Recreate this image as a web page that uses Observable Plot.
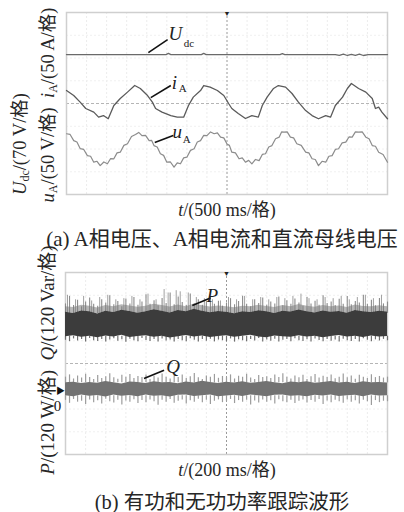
<!DOCTYPE html>
<html lang="zh-CN"><head><meta charset="utf-8">
<script src="https://cdn.jsdelivr.net/npm/d3@7"></script>
<script src="https://cdn.jsdelivr.net/npm/@observablehq/plot@0.6"></script>
<style>
body{margin:0;background:#fff;}
#wrap{position:relative;width:404px;height:512px;overflow:hidden;font-family:"Liberation Serif","Times New Roman","Noto Sans CJK SC",serif;color:#262626;}
.abs{position:absolute;white-space:nowrap;}
.c{transform:translate(-50%,-50%);}
.r{transform:translate(-50%,-50%) rotate(-90deg);}
sub{font-size:0.65em;vertical-align:-0.25em;line-height:0;}
</style></head>
<body>
<div id="wrap">
  <div id="pa" class="abs" style="left:0;top:0"></div>
  <div id="pb" class="abs" style="left:0;top:250px"></div>
  <div class="abs r" style="left:18px;top:144px;font-size:18.5px"><i>U</i><sub>dc</sub>/(70 V/格)</div>
  <div class="abs r" style="left:46px;top:105px;font-size:18.5px"><i>u</i><sub>A</sub>/(50 V/格)&nbsp;&nbsp;<i>i</i><sub>A</sub>/(50 A/格)</div>
  <div class="abs c" style="left:227px;top:208px;font-size:18px"><i>t</i>/(500 ms/格)</div>
  <div class="abs c" style="left:222px;top:237px;font-size:21px">(a) A相电压、A相电流和直流母线电压</div>
  <div class="abs r" style="left:45px;top:360px;font-size:19px"><i>P</i>/(120 W/格)&nbsp;&nbsp;<i>Q</i>/(120 Var/格)</div>
  <div class="abs c" style="left:227px;top:468px;font-size:18px"><i>t</i>/(200 ms/格)</div>
  <div class="abs c" style="left:222px;top:500px;font-size:20.5px">(b) 有功和无功功率跟踪波形</div>
</div>
<script>
// ---------- Panel (a): values in screen divisions (格), t in seconds ----------
const Udc_t = [0,1.24,1.27,1.30,1.68,1.71,1.74,2.66,2.69,2.72,3.35,3.40,3.45,3.50,3.55,3.60,3.65,3.70,3.76,4.0];
const Udc_v = [2.15,2.15,2.2,2.15,2.15,2.2,2.15,2.15,2.19,2.15,2.15,2.12,2.17,2.11,2.16,2.12,2.17,2.11,2.15,2.15];

const iA_t = [0,0.09,0.17,0.24,0.34,0.40,0.46,0.52,0.59,0.67,0.76,0.85,0.92,1.01,1.07,1.11,1.19,1.30,1.38,1.46,1.52,1.58,1.67,1.71,1.79,1.88,1.96,2.02,2.06,2.14,2.23,2.31,2.39,2.44,2.50,2.58,2.64,2.73,2.81,2.89,2.98,3.06,3.14,3.23,3.29,3.35,3.44,3.50,3.55,3.64,3.73,3.81,3.85,3.89,3.93,4.0];
const iA_v = [0.57,0.35,0.06,-0.22,-0.38,-0.60,-0.53,-0.67,-0.09,0.22,0.50,0.79,0.66,0.35,0.06,-0.22,-0.38,-0.53,-0.60,-0.60,-0.09,0.28,0.57,0.79,0.72,0.57,0.35,0.0,-0.22,-0.44,-0.66,-0.53,-0.60,-0.09,0.28,0.66,0.79,0.72,0.44,0.06,-0.31,-0.53,-0.67,-0.53,-0.60,-0.09,0.28,0.66,0.88,0.66,0.50,0.22,-0.22,-0.16,-0.38,-0.67];

const uA_t = [0,0.045,0.09,0.13,0.17,0.215,0.26,0.30,0.34,0.38,0.42,0.465,0.51,0.55,0.59,0.63,0.67,0.715,0.76,0.81,0.86,0.90,0.94,0.985,1.03,1.06,1.09,1.13,1.17,1.21,1.25,1.295,1.34,1.38,1.42,1.46,1.50,1.545,1.59,1.63,1.67,1.71,1.75,1.795,1.84,1.88,1.92,1.96,2.00,2.03,2.06,2.105,2.15,2.19,2.23,2.27,2.31,2.355,2.40,2.44,2.48,2.52,2.56,2.605,2.65,2.68,2.71,2.75,2.79,2.83,2.87,2.925,2.98,3.02,3.06,3.10,3.14,3.185,3.23,3.27,3.31,3.35,3.39,3.435,3.48,3.52,3.56,3.60,3.64,3.685,3.73,3.77,3.81,3.85,3.89,3.945,4.00];
const uA_v = [-1.33,-1.36,-1.63,-1.69,-1.98,-2.02,-2.29,-2.32,-2.58,-2.54,-2.73,-2.57,-2.65,-2.42,-2.43,-2.17,-2.14,-1.84,-1.77,-1.45,-1.36,-1.27,-1.41,-1.40,-1.63,-1.62,-1.85,-1.91,-2.21,-2.28,-2.58,-2.57,-2.80,-2.61,-2.65,-2.39,-2.36,-2.06,-1.99,-1.69,-1.63,-1.40,-1.41,-1.25,-1.33,-1.29,-1.48,-1.51,-1.78,-1.84,-2.14,-2.17,-2.43,-2.39,-2.58,-2.50,-2.65,-2.46,-2.51,-2.24,-2.21,-1.91,-1.85,-1.55,-1.48,-1.25,-1.26,-1.25,-1.48,-1.51,-1.77,-1.84,-2.14,-2.17,-2.43,-2.46,-2.73,-2.54,-2.58,-2.32,-2.29,-2.02,-1.99,-1.73,-1.70,-1.47,-1.48,-1.25,-1.26,-1.25,-1.48,-1.55,-1.85,-1.88,-2.14,-2.24,-2.58];

const annA = [
  {main:"U", sub:"dc", lx:1.27, ly:3.05, sx:1.46, sy:2.64, x1:1.02, y1:2.24, x2:1.26, y2:2.81},
  {main:"i", sub:"A",  lx:1.31, ly:0.92, sx:1.40, sy:0.66, x1:1.05, y1:0.26, x2:1.30, y2:0.79},
  {main:"u", sub:"A",  lx:1.32, ly:-1.27, sx:1.45, sy:-1.58, x1:1.10, y1:-1.71, x2:1.33, y2:-1.41}
];
const gridXA = [0.25,0.5,0.75,1,1.25,1.5,1.75,2.25,2.5,2.75,3,3.25,3.5,3.75];
const gridY = [-3,-2,-1,1,2,3];

// ---------- Panel (b): t in seconds, values in divisions ----------
const tB = [0,0.04,0.08,0.12,0.16,0.2,0.24,0.28,0.32,0.36,0.4,0.44,0.48,0.52,0.56,0.6,0.64,0.68,0.72,0.76,0.8,0.84,0.88,0.92,0.96,1.0,1.04,1.08,1.12,1.16,1.2,1.24,1.28,1.32,1.36,1.4,1.44,1.48,1.52,1.56,1.6];
const P_hi = [2.25,2.2,2.31,2.27,2.18,2.3,2.24,2.34,2.29,2.21,2.28,2.36,2.3,2.22,2.33,2.27,2.38,2.3,2.23,2.29,2.25,2.19,2.28,2.24,2.32,2.27,2.2,2.3,2.26,2.35,2.28,2.22,2.31,2.25,2.29,2.21,2.33,2.27,2.24,2.3,2.26];
const P_lo = [1.18,1.22,1.15,1.2,1.13,1.21,1.17,1.24,1.14,1.19,1.22,1.15,1.2,1.12,1.18,1.23,1.16,1.21,1.14,1.19,1.22,1.15,1.2,1.24,1.17,1.13,1.21,1.18,1.15,1.22,1.17,1.2,1.13,1.19,1.23,1.16,1.2,1.14,1.21,1.17,1.19];
const P_fr = [2.5,2.46,2.56,2.52,2.44,2.55,2.49,2.58,2.53,2.47,2.52,2.6,2.55,2.48,2.57,2.5,2.62,2.54,2.48,2.53,2.5,2.45,2.52,2.49,2.56,2.51,2.46,2.55,2.5,2.59,2.52,2.47,2.55,2.5,2.53,2.46,2.57,2.51,2.49,2.54,2.5];
const Q_hi = [-0.85,-0.82,-0.88,-0.83,-0.87,-0.79,-0.85,-0.9,-0.81,-0.84,-0.88,-0.8,-0.85,-0.83,-0.89,-0.81,-0.86,-0.78,-0.84,-0.88,-0.82,-0.86,-0.8,-0.87,-0.84,-0.79,-0.85,-0.89,-0.81,-0.85,-0.8,-0.87,-0.84,-0.79,-0.86,-0.82,-0.88,-0.8,-0.85,-0.83,-0.86];
const Q_lo = [-1.42,-1.46,-1.39,-1.44,-1.41,-1.47,-1.38,-1.44,-1.41,-1.46,-1.39,-1.44,-1.42,-1.47,-1.4,-1.38,-1.45,-1.42,-1.39,-1.46,-1.43,-1.4,-1.45,-1.39,-1.42,-1.46,-1.4,-1.38,-1.44,-1.42,-1.46,-1.4,-1.43,-1.39,-1.45,-1.42,-1.4,-1.46,-1.39,-1.43,-1.42];

// dense noise excursions (hairs) above/below each band
const tS = [0,0.02,0.04,0.06,0.08,0.1,0.12,0.14,0.16,0.18,0.2,0.22,0.24,0.26,0.28,0.3,0.32,0.34,0.36,0.38,0.4,0.42,0.44,0.46,0.48,0.5,0.52,0.54,0.56,0.58,0.6,0.62,0.64,0.66,0.68,0.7,0.72,0.74,0.76,0.78,0.8,0.82,0.84,0.86,0.88,0.9,0.92,0.94,0.96,0.98,1.0,1.02,1.04,1.06,1.08,1.1,1.12,1.14,1.16,1.18,1.2,1.22,1.24,1.26,1.28,1.3,1.32,1.34,1.36,1.38,1.4,1.42,1.44,1.46,1.48,1.5,1.52,1.54,1.56,1.58,1.6];
const P_up = [2.62,2.95,2.55,2.78,2.5,2.7,2.88,2.6,2.52,2.8,2.66,2.98,2.58,2.72,2.5,2.84,2.62,2.9,2.56,2.7,3.02,2.6,2.76,2.54,2.86,2.64,3.1,2.58,2.92,2.68,2.55,3.05,2.62,2.8,2.56,2.7,2.9,2.6,2.74,2.52,2.66,2.85,2.58,2.72,2.96,2.6,2.5,2.8,2.64,2.88,2.56,2.7,2.62,2.92,2.54,2.76,2.6,2.84,2.66,2.52,2.9,2.62,2.74,2.56,2.98,2.64,2.7,2.55,2.82,2.6,2.94,2.58,2.72,2.66,3.0,2.6,2.78,2.54,2.86,2.62,2.7];
const P_dn = [1.02,0.96,1.08,0.99,1.05,0.94,1.1,1.0,0.97,1.06,0.95,1.03,1.09,0.98,1.04,0.93,1.07,1.0,0.96,1.1,1.01,0.97,1.05,0.94,1.08,0.99,1.03,0.95,1.06,1.0,0.96,1.09,1.02,0.94,1.05,0.98,1.07,0.95,1.03,1.0,0.97,1.08,0.94,1.04,1.0,0.96,1.06,0.99,1.1,0.95,1.03,0.98,1.07,0.94,1.02,1.05,0.96,1.09,1.0,0.97,1.04,0.95,1.08,1.01,0.96,1.06,0.98,1.03,0.94,1.07,1.0,0.97,1.05,0.95,1.09,1.02,0.96,1.04,0.99,1.06,1.0];
const Q_up = [-0.6,-0.5,-0.68,-0.55,-0.64,-0.47,-0.62,-0.7,-0.53,-0.66,-0.58,-0.45,-0.63,-0.69,-0.52,-0.6,-0.48,-0.66,-0.57,-0.62,-0.5,-0.7,-0.56,-0.64,-0.46,-0.6,-0.68,-0.54,-0.62,-0.5,-0.66,-0.58,-0.44,-0.63,-0.7,-0.55,-0.6,-0.48,-0.65,-0.57,-0.62,-0.5,-0.68,-0.56,-0.6,-0.47,-0.64,-0.7,-0.53,-0.61,-0.58,-0.66,-0.5,-0.62,-0.45,-0.6,-0.68,-0.55,-0.63,-0.52,-0.7,-0.58,-0.48,-0.64,-0.56,-0.62,-0.5,-0.67,-0.6,-0.46,-0.63,-0.55,-0.69,-0.52,-0.6,-0.66,-0.49,-0.62,-0.57,-0.64,-0.6];
const Q_dn = [-1.62,-1.75,-1.58,-1.7,-1.66,-1.8,-1.6,-1.72,-1.64,-1.78,-1.57,-1.68,-1.74,-1.61,-1.82,-1.65,-1.7,-1.59,-1.76,-1.63,-1.72,-1.6,-1.68,-1.84,-1.62,-1.7,-1.58,-1.75,-1.66,-1.6,-1.78,-1.64,-1.7,-1.57,-1.73,-1.62,-1.8,-1.66,-1.6,-1.72,-1.68,-1.58,-1.76,-1.63,-1.7,-1.61,-1.82,-1.65,-1.74,-1.6,-1.7,-1.64,-1.78,-1.59,-1.68,-1.72,-1.62,-1.76,-1.66,-1.6,-1.74,-1.63,-1.7,-1.58,-1.8,-1.65,-1.72,-1.61,-1.68,-1.75,-1.6,-1.7,-1.64,-1.78,-1.62,-1.68,-1.85,-1.63,-1.72,-1.66,-1.68];
// taller isolated P spikes
const Pspk_t = [0.01,0.05,0.09,0.13,0.17,0.21,0.25,0.29,0.33,0.37,0.41,0.45,0.49,0.51,0.55,0.57,0.61,0.65,0.69,0.73,0.77,0.81,0.85,0.89,0.93,0.97,1.01,1.05,1.09,1.13,1.17,1.21,1.25,1.29,1.33,1.37,1.41,1.45,1.49,1.53,1.57];
const Pspk_v = [3.0,2.8,2.95,2.75,2.9,3.0,2.8,2.85,2.95,2.8,3.05,2.8,3.25,3.1,3.2,3.15,3.1,2.9,2.85,2.8,2.75,2.9,2.8,2.95,2.8,2.9,2.8,2.9,2.85,2.95,3.05,2.85,2.8,2.9,2.85,2.95,2.8,2.9,3.0,2.85,3.0];

const zeroRefB = -1.27;
const annB = [
  {main:"P", lx:0.70, ly:2.99, x1:0.63, y1:2.55, x2:0.72, y2:2.88},
  {main:"Q", lx:0.50, ly:-0.13, x1:0.39, y1:-0.66, x2:0.49, y2:-0.30}
];
const gridXB = [0.1,0.2,0.3,0.4,0.5,0.6,0.7,0.9,1.0,1.1,1.2,1.3,1.4,1.5];

// ---------- build ----------
const zip = (t, v) => t.map((x, i) => ({t: x, v: v[i]}));
const serif = "Liberation Serif";

const plotA = Plot.plot({
  width: 404, height: 222,
  marginLeft: 66, marginRight: 17, marginTop: 12, marginBottom: 28,
  x: {domain: [0, 4], axis: null},
  y: {domain: [-4, 4], axis: null},
  marks: [
    Plot.ruleX(gridXA, {stroke: "#ececec", strokeDasharray: "2,2"}),
    Plot.ruleY(gridY, {stroke: "#f0f0f0", strokeDasharray: "2,2"}),
    Plot.ruleX([2], {stroke: "#9a9a9a", strokeDasharray: "2,2"}),
    Plot.ruleY([0], {stroke: "#b5b5b5", strokeDasharray: "3,2"}),
    Plot.frame({stroke: "#cfcfcf", strokeWidth: 1.5}),
    Plot.line(zip(Udc_t, Udc_v), {x: "t", y: "v", stroke: "#6a6a6a", strokeWidth: 1.3}),
    Plot.line(zip(iA_t, iA_v), {x: "t", y: "v", stroke: "#5a5a5a", strokeWidth: 1.3}),
    Plot.line(zip(uA_t, uA_v), {x: "t", y: "v", stroke: "#8c8c8c", strokeWidth: 1.2}),
    Plot.link(annA, {x1: "x1", y1: "y1", x2: "x2", y2: "y2", stroke: "#111", strokeWidth: 1.6}),
    Plot.text(annA, {x: "lx", y: "ly", text: "main", textAnchor: "start", fontSize: 19, fontStyle: "italic", fontFamily: serif, fill: "#222"}),
    Plot.text(annA, {x: "sx", y: "sy", text: "sub", textAnchor: "start", fontSize: 11, fontFamily: serif, fill: "#222"}),
    Plot.text([{x: 2, y: 4}], {x: "x", y: "y", text: () => "▼", fontSize: 7, dy: 1, fill: "#222"})
  ]
});
document.getElementById("pa").append(plotA);

const PB = tB.map((t, i) => ({t, hi: P_hi[i], lo: P_lo[i], fr: P_fr[i]}));
const QB = tB.map((t, i) => ({t, hi: Q_hi[i], lo: Q_lo[i]}));

const plotB = Plot.plot({
  width: 404, height: 232,
  marginLeft: 65, marginRight: 17, marginTop: 22, marginBottom: 28,
  x: {domain: [0, 1.6], axis: null},
  y: {domain: [-4, 4], axis: null},
  marks: [
    Plot.ruleX(gridXB, {stroke: "#ececec", strokeDasharray: "2,2"}),
    Plot.ruleY(gridY, {stroke: "#f0f0f0", strokeDasharray: "2,2"}),
    Plot.ruleX([0.8], {stroke: "#9a9a9a", strokeDasharray: "2,2"}),
    Plot.ruleY([0], {stroke: "#b5b5b5", strokeDasharray: "3,2"}),
    Plot.frame({stroke: "#cfcfcf", strokeWidth: 1.5}),
    // P trace
    Plot.ruleX(zip(Pspk_t, Pspk_v), {x: "t", y1: 2.2, y2: "v", stroke: "#a0a0a0", strokeWidth: 1}),
    Plot.ruleX(zip(tS, P_up), {x: "t", y1: 2.2, y2: "v", stroke: "#8c8c8c", strokeWidth: 1.1}),
    Plot.areaY(PB, {x: "t", y1: "hi", y2: "fr", fill: "#7a7a7a", fillOpacity: 0.55}),
    Plot.ruleX(zip(tS, P_dn), {x: "t", y1: 1.2, y2: "v", stroke: "#6e6e6e", strokeWidth: 1.2}),
    Plot.areaY(PB, {x: "t", y1: "lo", y2: "hi", fill: "#3c3c3c"}),
    // Q trace
    Plot.ruleX(zip(tS, Q_up), {x: "t", y1: -0.85, y2: "v", stroke: "#9c9c9c", strokeWidth: 1.2}),
    Plot.ruleX(zip(tS, Q_dn), {x: "t", y1: -1.42, y2: "v", stroke: "#9c9c9c", strokeWidth: 1.2}),
    Plot.areaY(QB, {x: "t", y1: "lo", y2: "hi", fill: "#727272"}),
    // annotations
    Plot.link(annB, {x1: "x1", y1: "y1", x2: "x2", y2: "y2", stroke: "#111", strokeWidth: 1.6}),
    Plot.text(annB, {x: "lx", y: "ly", text: "main", textAnchor: "start", fontSize: 19, fontStyle: "italic", fontFamily: serif, fill: "#222"}),
    Plot.text([{x: 0.8, y: 4}], {x: "x", y: "y", text: () => "▼", fontSize: 7, dy: 1, fill: "#222"}),
    Plot.text([{x: 0, y: zeroRefB}], {x: "x", y: "y", text: () => "▶", fontSize: 9, dx: -5, dy: -1, fill: "#111"}),
    Plot.text([{x: 0, y: zeroRefB}], {x: "x", y: "y", text: () => "0", fontSize: 15, dx: -8, dy: 14, fontFamily: serif, fill: "#111"})
  ]
});
document.getElementById("pb").append(plotB);
</script>
</body></html>
